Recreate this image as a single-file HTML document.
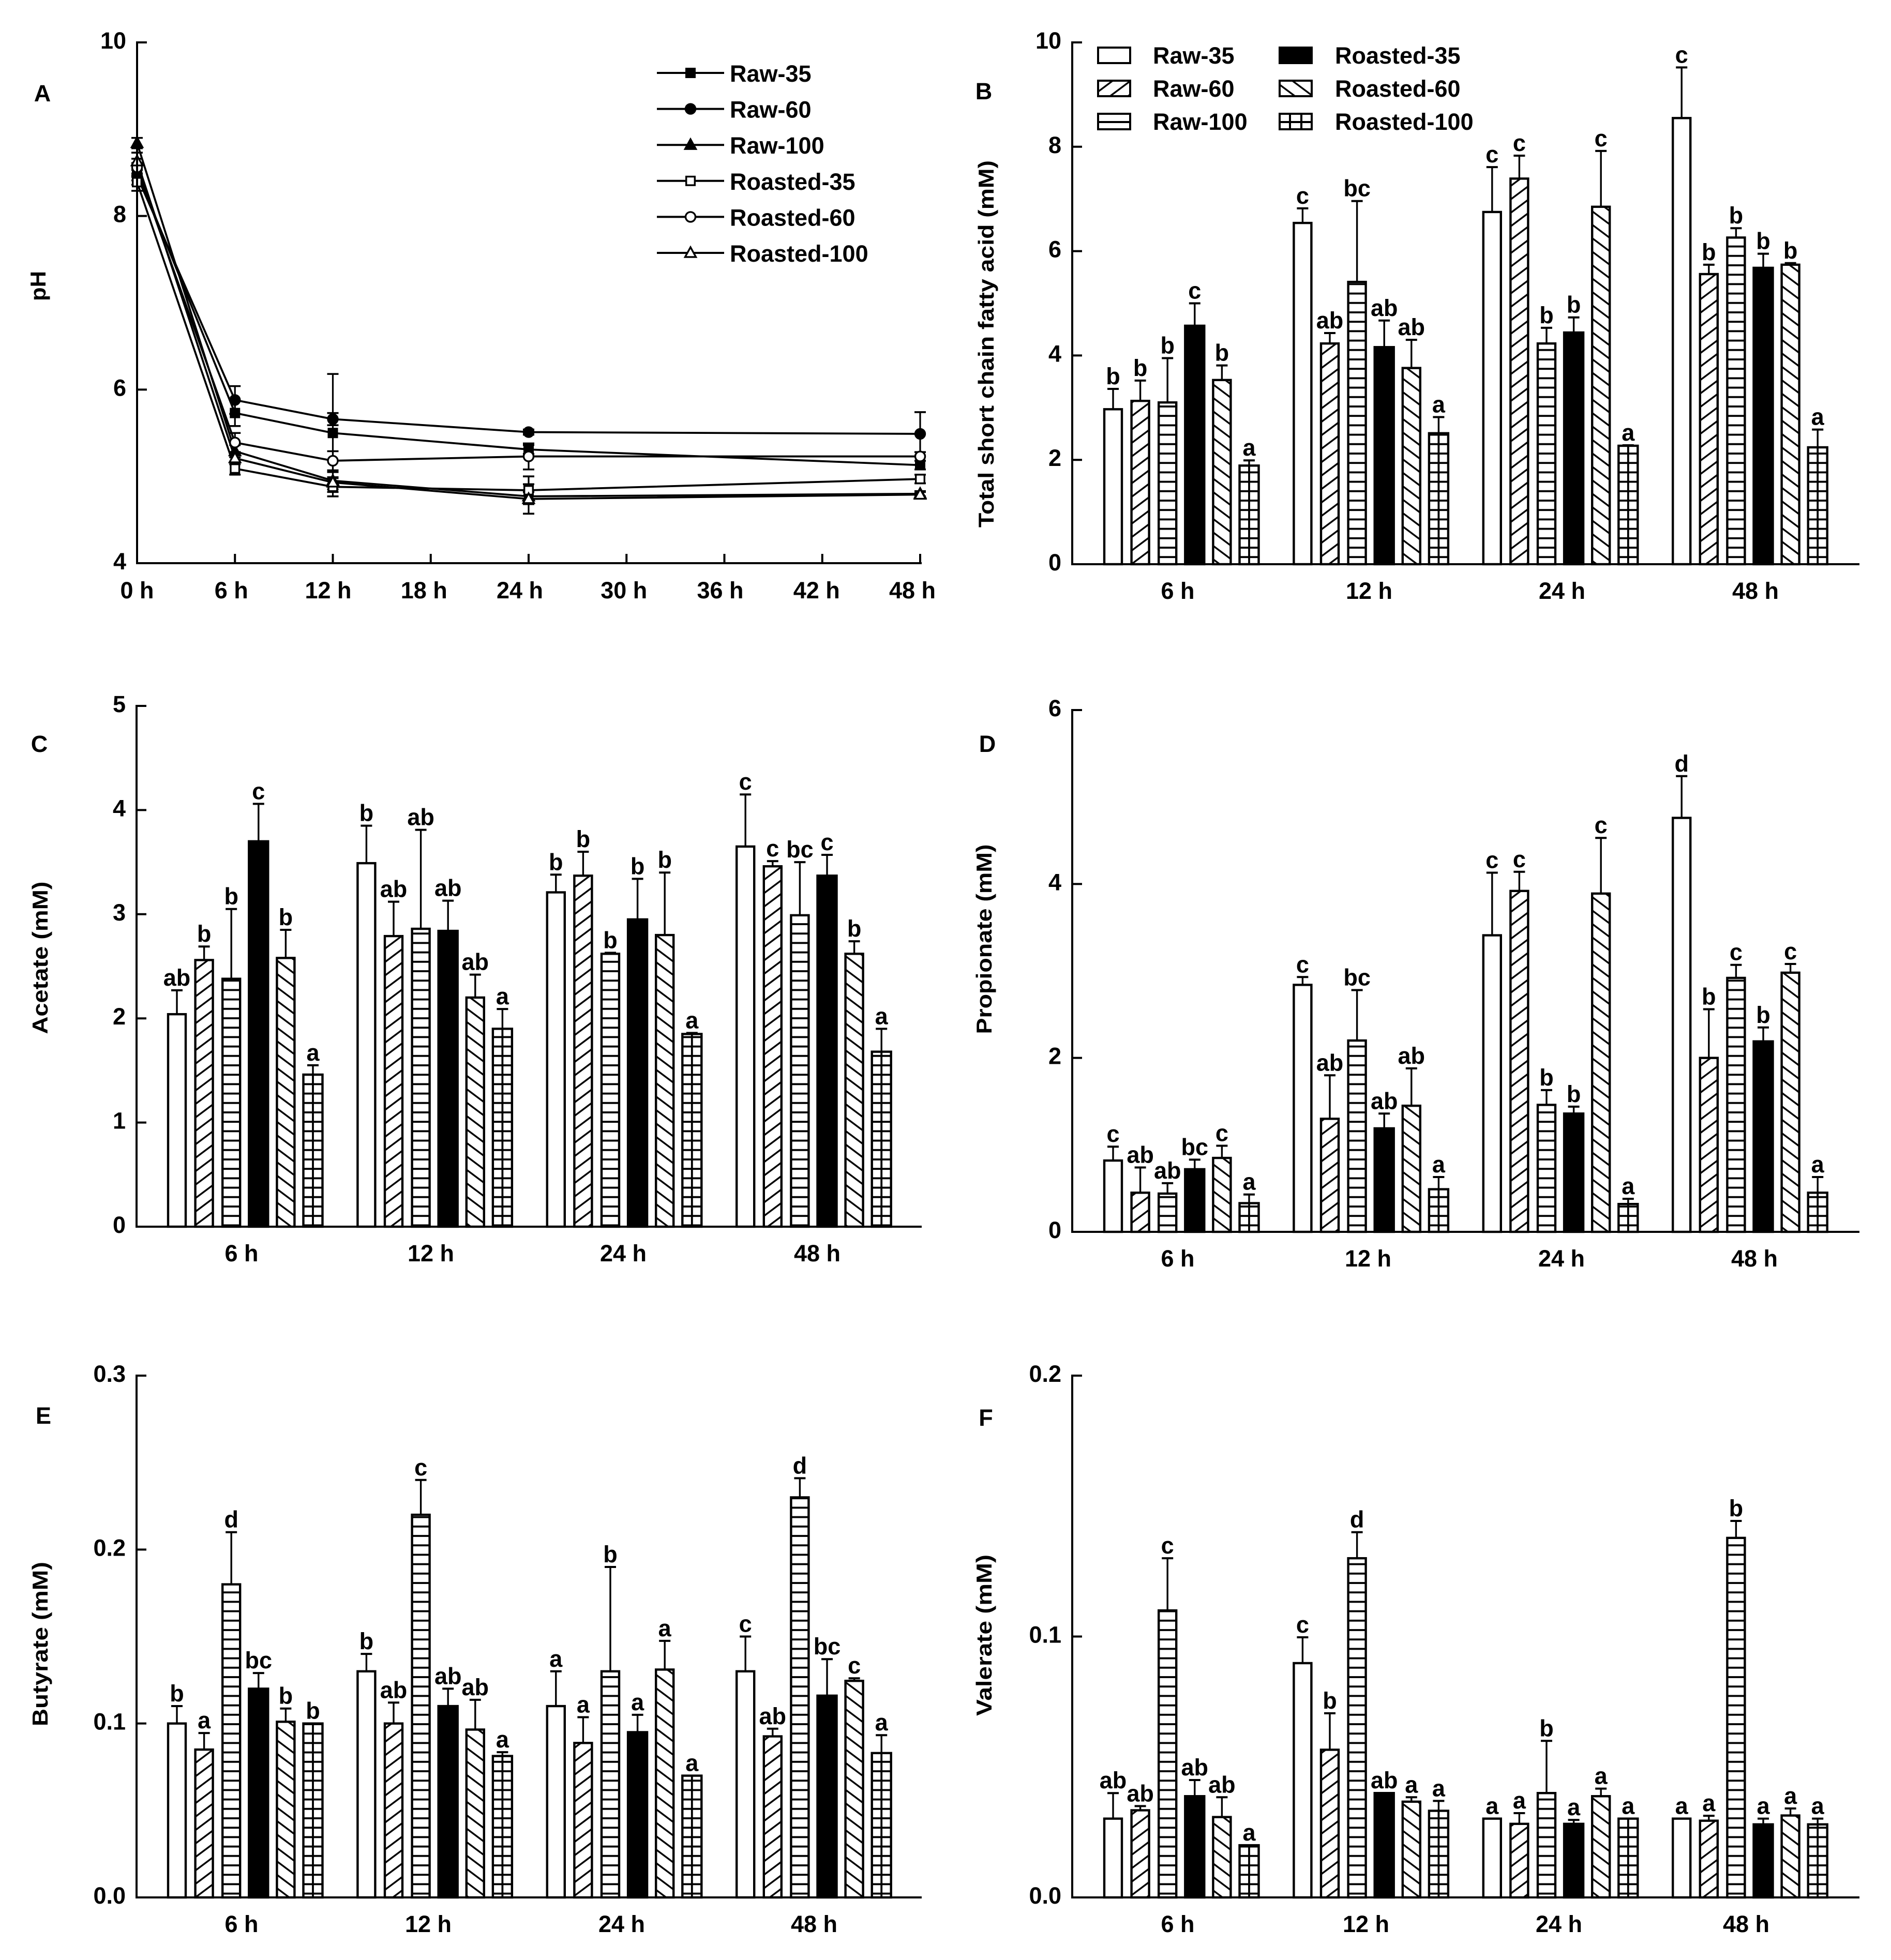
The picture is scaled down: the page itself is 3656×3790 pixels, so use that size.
<!DOCTYPE html>
<html lang="en">
<head>
<meta charset="utf-8">
<title>Fermentation pH and short chain fatty acids</title>
<style>
html,body{margin:0;padding:0;background:#fff;}
svg{display:block;}
text{font-family:"Liberation Sans",sans-serif;font-weight:bold;fill:#000;}
</style>
</head>
<body>
<svg id="figure" xmlns="http://www.w3.org/2000/svg" width="3656" height="3790" viewBox="0 0 3656 3790">
<defs>
<pattern id="p-up" patternUnits="userSpaceOnUse" width="34.7" height="26">
<rect width="34.7" height="26" fill="#fff"/>
<path d="M0 26L34.7 0M-34.7 26L0 0M34.7 26L69.4 0M0 0L34.7 -26M0 52L34.7 26" stroke="#000" stroke-width="3.4" fill="none"/>
</pattern>
<pattern id="p-down" patternUnits="userSpaceOnUse" width="34.7" height="26">
<rect width="34.7" height="26" fill="#fff"/>
<path d="M0 0L34.7 26M-34.7 0L0 26M34.7 0L69.4 26M0 -26L34.7 0M0 26L34.7 52" stroke="#000" stroke-width="3.4" fill="none"/>
</pattern>
<pattern id="p-h" patternUnits="userSpaceOnUse" y="-5.5" width="20" height="18.2">
<rect width="20" height="18.2" fill="#fff"/>
<rect y="7" width="20" height="3.8" fill="#000"/>
</pattern>
</defs>
<rect width="3656" height="3790" fill="#fff"/>
</svg>
<script>
// ---------- shared categories ----------
const categories = ['6 h', '12 h', '24 h', '48 h'];
const seriesNames = ['Raw-35', 'Raw-60', 'Raw-100', 'Roasted-35', 'Roasted-60', 'Roasted-100'];

// ---------- Panel A: pH ----------
const phHours = [0, 6, 12, 24, 48];
const phTickHours = [0, 6, 12, 18, 24, 30, 36, 42, 48];
const phHourLabels = ['0 h', '6 h', '12 h', '18 h', '24 h', '30 h', '36 h', '42 h', '48 h'];
const phTicks = [4, 6, 8, 10];
const phRaw35 = [8.51, 5.73, 5.50, 5.31, 5.13];
const phRaw60 = [8.46, 5.88, 5.66, 5.51, 5.49];
const phRaw100 = [8.84, 5.29, 4.95, 4.77, 4.80];
const phRoasted35 = [8.39, 5.09, 4.88, 4.84, 4.97];
const phRoasted60 = [8.56, 5.39, 5.18, 5.23, 5.23];
const phRoasted100 = [8.63, 5.21, 4.93, 4.74, 4.79];
const phRaw35Err = [0.1, 0.15, 0.68, 0.05, 0.05];
const phRaw60Err = [0.1, 0.16, 0.07, 0.03, 0.25];
const phRaw100Err = [0.06, 0.07, 0.1, 0.05, 0.03];
const phRoasted35Err = [0.1, 0.07, 0.11, 0.16, 0.05];
const phRoasted60Err = [0.1, 0.11, 0.11, 0.15, 0.05];
const phRoasted100Err = [0.1, 0.07, 0.05, 0.17, 0.03];

// ---------- Panel B: total SCFA ----------
const totalTicks = [0, 2, 4, 6, 8, 10];
const totalValues = [[2.97,3.13,3.10,4.57,3.53,1.89],[6.54,4.23,5.41,4.16,3.76,2.51],[6.75,7.39,4.23,4.44,6.85,2.27],[8.55,5.56,6.26,5.68,5.74,2.24]];
const totalErrorTops = [[3.36,3.52,3.95,5.00,3.81,1.99],[6.82,4.43,6.96,4.67,4.30,2.82],[7.61,7.83,4.53,4.73,7.92,2.28],[9.52,5.74,6.44,5.95,5.77,2.58]];
const totalLetters = [['b','b','b','c','b','a'],['c','ab','bc','ab','ab','a'],['c','c','b','b','c','a'],['c','b','b','b','b','a']];

// ---------- Panel C: acetate ----------
const acetateTicks = [0, 1, 2, 3, 4, 5];
const acetateValues = [[2.04,2.56,2.38,3.70,2.58,1.46],[3.49,2.79,2.86,2.84,2.20,1.90],[3.21,3.37,2.62,2.95,2.80,1.85],[3.65,3.46,2.99,3.37,2.62,1.68]];
const acetateErrorTops = [[2.27,2.69,3.05,4.06,2.85,1.55],[3.85,3.12,3.81,3.13,2.42,2.09],[3.38,3.60,2.63,3.34,3.40,1.86],[4.15,3.51,3.50,3.57,2.74,1.90]];
const acetateLetters = [['ab','b','b','c','b','a'],['b','ab','ab','ab','ab','a'],['b','b','b','b','b','a'],['c','c','bc','c','b','a']];

// ---------- Panel D: propionate ----------
const propionateTicks = [0, 2, 4, 6];
const propionateValues = [[0.82,0.45,0.44,0.72,0.85,0.33],[2.84,1.30,2.20,1.19,1.45,0.49],[3.41,3.92,1.46,1.36,3.89,0.32],[4.76,2.00,2.92,2.19,2.98,0.45]];
const propionateErrorTops = [[0.98,0.74,0.56,0.83,0.99,0.43],[2.93,1.80,2.78,1.36,1.88,0.63],[4.13,4.14,1.63,1.44,4.53,0.38],[5.24,2.56,3.07,2.35,3.08,0.63]];
const propionateLetters = [['c','ab','ab','bc','c','a'],['c','ab','bc','ab','ab','a'],['c','c','b','b','c','a'],['d','b','c','b','c','a']];

// ---------- Panel E: butyrate ----------
const butyrateTicks = [0, 0.1, 0.2, 0.3];
const butyrateValues = [[0.100,0.085,0.180,0.120,0.101,0.100],[0.130,0.100,0.220,0.110,0.0965,0.0813],[0.110,0.0888,0.130,0.095,0.131,0.070],[0.130,0.0926,0.230,0.116,0.1245,0.083]];
const butyrateErrorTops = [[0.110,0.0945,0.210,0.129,0.1086,0.100],[0.140,0.112,0.240,0.120,0.1136,0.0835],[0.130,0.1036,0.190,0.105,0.1475,0.070],[0.150,0.097,0.241,0.137,0.126,0.0933]];
const butyrateLetters = [['b','a','d','bc','b','b'],['b','ab','c','ab','ab','a'],['a','a','b','a','a','a'],['c','ab','d','bc','c','a']];

// ---------- Panel F: valerate ----------
const valerateTicks = [0, 0.1, 0.2];
const valerateValues = [[0.0302,0.0334,0.110,0.0388,0.0308,0.020],[0.0898,0.0566,0.130,0.040,0.0367,0.0332],[0.0302,0.0282,0.040,0.0282,0.0388,0.0302],[0.0302,0.0294,0.1378,0.028,0.0314,0.028]];
const valerateErrorTops = [[0.040,0.035,0.130,0.045,0.0384,0.020],[0.0997,0.0706,0.140,0.040,0.0384,0.037],[0.0302,0.0323,0.060,0.0297,0.0417,0.0302],[0.0302,0.0313,0.1443,0.0302,0.0341,0.0302]];
const valerateLetters = [['ab','ab','c','ab','ab','a'],['c','b','d','ab','a','a'],['a','a','b','a','a','a'],['a','a','b','a','a','a']];

// ---------- drawing helpers ----------
const NS = 'http://www.w3.org/2000/svg';
const root = document.getElementById('figure');
function make(tag, attrs, parent) {
  const el = document.createElementNS(NS, tag);
  for (const k in attrs) el.setAttribute(k, attrs[k]);
  (parent || root).appendChild(el);
  return el;
}
function seg(x1, y1, x2, y2, w, parent) {
  return make('line', {x1: x1, y1: y1, x2: x2, y2: y2, stroke: '#000', 'stroke-width': w}, parent);
}
function label(str, x, y, anchor, size, parent) {
  const t = make('text', {x: x, y: y, 'text-anchor': anchor, 'font-size': size}, parent);
  t.textContent = str;
  return t;
}
function linear(d0, d1, r0, r1) {
  return function (v) { return r0 + (v - d0) * (r1 - r0) / (d1 - d0); };
}
const barFills = ['#fff', 'url(#p-up)', 'url(#p-h)', '#000', 'url(#p-down)', 'url(#p-h)'];
const barInnerWidth = [34, 34, 34, 37, 34, 37];
const FONT = 45;

function drawYAxis(g, cfg, yScale, ticks, digits) {
  const axis = seg(cfg.axisX, cfg.yTop - 2, cfg.axisX, cfg.yBase + 2, 4, g);
  
  
  ticks.forEach(function (v) {
    const tick = seg(cfg.axisX, yScale(v), cfg.axisX + 19, yScale(v), 4, g);
    
    
    const t = label(v.toFixed(digits), cfg.axisX - 21, yScale(v) + 12, 'end', FONT, g);
    
    
  });
  const xAxis = seg(cfg.axisX - 2, cfg.yBase, cfg.xEnd, cfg.yBase, 4, g);
  
  
}
function drawDecor(g, cfg) {
  const tb = make('text', {
    transform: 'translate(' + cfg.titleX + ',' + cfg.titleY + ') rotate(-90)',
    'text-anchor': 'middle', 'font-size': 42, textLength: cfg.titleLen, lengthAdjust: 'spacingAndGlyphs'
  }, g);
  tb.textContent = cfg.title;
  
  
  const pl = label(cfg.letter, cfg.letterX, cfg.letterY, 'middle', FONT, g);
  
  
}

function drawBarPanel(cfg) {
  const g = make('g', {});
  
  
  const yScale = linear(0, cfg.ticks[cfg.ticks.length - 1], cfg.yBase, cfg.yTop);
  const groupX = function (i) { return cfg.barX0 + 366.4 * i; };
  const PITCH = 52.6;
  cfg.values.forEach(function (row, gi) {
    row.forEach(function (v, s) {
      const W = barInnerWidth[s];
      const cx = groupX(gi) + PITCH * s;
      const yTop = yScale(v);
      const errTop = yScale(cfg.tops[gi][s]);
      if (cfg.tops[gi][s] > v) {
        const stem = seg(cx, yTop, cx, errTop, 3.4, g);
        
        
        const cap = seg(cx - 11, errTop, cx + 11, errTop, 4, g);
        
        
      }
      const rect = make('rect', {
        x: cx - W / 2, y: yTop, width: W, height: cfg.yBase - yTop,
        fill: barFills[s], stroke: '#000', 'stroke-width': 4.4
      }, g);
      
      
      if (s === 5) {
        const mid = seg(cx, yTop, cx, cfg.yBase, 3.8, g);
        
        
      }
      const lt = label(cfg.letters[gi][s], cx, Math.min(yTop, errTop) - 9, 'middle', FONT, g);
      
      
    });
    const cat = label(categories[gi], cfg.labelX[gi], cfg.yBase + 67, 'middle', FONT, g);
    
    
  });
  drawYAxis(g, cfg, yScale, cfg.ticks, cfg.digits);
  drawDecor(g, cfg);
}

// ---------- Panel A ----------
function marker(kind, x, y, parent) {
  const fill = kind.open ? '#fff' : '#000';
  if (kind.shape === 'square') {
    return make('rect', {x: x - 8.3, y: y - 8.3, width: 16.6, height: 16.6, fill: fill, stroke: '#000', 'stroke-width': 3.4}, parent);
  }
  if (kind.shape === 'circle') {
    return make('circle', {cx: x, cy: y, r: 9.5, fill: fill, stroke: '#000', 'stroke-width': 3.4}, parent);
  }
  return make('polygon', {points: (x - 10.5) + ',' + (y + 8) + ' ' + (x + 10.5) + ',' + (y + 8) + ' ' + x + ',' + (y - 11), fill: fill, stroke: '#000', 'stroke-width': 3.4}, parent);
}
function drawPhPanel() {
  const cfg = {axisX: 265, xEnd: 1782, yTop: 82, yBase: 1089, title: 'pH', titleX: 88, titleY: 553, titleLen: 58, letter: 'A', letterX: 82, letterY: 196};
  const g = make('g', {});
  
  
  const yScale = linear(4, 10, cfg.yBase, cfg.yTop);
  const xScale = linear(0, 48, 265, 1779);
  const labelNudge = [0, -7, -9, -13, -17, -5, -8, -11, -15];
  const lines = [
    {vals: phRaw35, errs: phRaw35Err, kind: {shape: 'square', open: false}},
    {vals: phRaw60, errs: phRaw60Err, kind: {shape: 'circle', open: false}},
    {vals: phRaw100, errs: phRaw100Err, kind: {shape: 'tri', open: false}},
    {vals: phRoasted35, errs: phRoasted35Err, kind: {shape: 'square', open: true}},
    {vals: phRoasted60, errs: phRoasted60Err, kind: {shape: 'circle', open: true}},
    {vals: phRoasted100, errs: phRoasted100Err, kind: {shape: 'tri', open: true}}
  ];
  lines.forEach(function (s, si) {
    const pts = s.vals.map(function (v, i) { return xScale(phHours[i]) + ',' + yScale(v); }).join(' ');
    const line = make('polyline', {points: pts, fill: 'none', stroke: '#000', 'stroke-width': 3.8}, g);
    
    
  });
  lines.forEach(function (s, si) {
    s.vals.forEach(function (v, i) {
      const x = xScale(phHours[i]);
      const y0 = yScale(v + s.errs[i]), y1 = yScale(v - s.errs[i]);
      const stem = seg(x, y0, x, y1, 3.2, g);
      
      
      const capA = seg(x - 11, y0, x + 11, y0, 3.6, g);
      
      
      const capB = seg(x - 11, y1, x + 11, y1, 3.6, g);
      
      
    });
  });
  lines.forEach(function (s, si) {
    s.vals.forEach(function (v, i) {
      const m = marker(s.kind, xScale(phHours[i]), yScale(v), g);
      
      
    });
  });
  drawYAxis(g, cfg, yScale, phTicks, 0);
  phTickHours.forEach(function (h, i) {
    const tick = seg(xScale(h), cfg.yBase, xScale(h), cfg.yBase - 18, 4, g);
    
    
    const t = label(phHourLabels[i], xScale(h) + labelNudge[i], cfg.yBase + 68, 'middle', FONT, g);
    
    
  });
  drawDecor(g, cfg);
  // legend
  const lg = make('g', {}, g);
  
  
  lines.forEach(function (s, si) {
    const y = 141 + 69.6 * si;
    const l = seg(1270, y, 1400, y, 4, lg);
    
    
    const m = marker(s.kind, 1335, y, lg);
    
    
    const t = label(seriesNames[si], 1411, y + 17, 'start', FONT, lg);
    
    
  });
}
drawPhPanel();

// ---------- Bar panels ----------
drawBarPanel({name: 'total', values: totalValues, tops: totalErrorTops, letters: totalLetters, ticks: totalTicks, digits: 0,
  axisX: 2073, xEnd: 3595, yTop: 82, yBase: 1091, barX0: 2152, labelX: [2277, 2647, 3020, 3394],
  title: 'Total short chain fatty acid (mM)', titleX: 1921, titleY: 665, titleLen: 710, letter: 'B', letterX: 1902, letterY: 192});
drawBarPanel({name: 'acetate', values: acetateValues, tops: acetateErrorTops, letters: acetateLetters, ticks: acetateTicks, digits: 0,
  axisX: 264, xEnd: 1782, yTop: 1365, yBase: 2372, barX0: 342, labelX: [467, 833, 1205, 1580],
  title: 'Acetate (mM)', titleX: 92, titleY: 1852, titleLen: 295, letter: 'C', letterX: 76, letterY: 1454});
drawBarPanel({name: 'propionate', values: propionateValues, tops: propionateErrorTops, letters: propionateLetters, ticks: propionateTicks, digits: 0,
  axisX: 2073, xEnd: 3595, yTop: 1373, yBase: 2382, barX0: 2152, labelX: [2277, 2645, 3019, 3392],
  title: 'Propionate (mM)', titleX: 1917, titleY: 1816, titleLen: 367, letter: 'D', letterX: 1909, letterY: 1454});
drawBarPanel({name: 'butyrate', values: butyrateValues, tops: butyrateErrorTops, letters: butyrateLetters, ticks: butyrateTicks, digits: 1,
  axisX: 264, xEnd: 1782, yTop: 2660, yBase: 3669, barX0: 342, labelX: [467, 828, 1202, 1574],
  title: 'Butyrate (mM)', titleX: 92, titleY: 3179, titleLen: 318, letter: 'E', letterX: 84, letterY: 2753});
drawBarPanel({name: 'valerate', values: valerateValues, tops: valerateErrorTops, letters: valerateLetters, ticks: valerateTicks, digits: 1,
  axisX: 2073, xEnd: 3595, yTop: 2660, yBase: 3669, barX0: 2152, labelX: [2277, 2641, 3014, 3376],
  title: 'Valerate (mM)', titleX: 1917, titleY: 3162, titleLen: 312, letter: 'F', letterX: 1906, letterY: 2757});

// ---------- Bar legend (panel B) ----------
(function () {
  const lg = make('g', {});
  
  
  const colSwatch = [2121, 2472];
  const colText = [2229, 2581];
  const rowTop = [90, 154, 218];
  seriesNames.forEach(function (nm, i) {
    const col = Math.floor(i / 3), row = i % 3;
    const x = colSwatch[col], y = rowTop[row];
    const sw = make('rect', {
      x: x + 2, y: y + 2, width: 62, height: 30,
      fill: (i === 2 || i === 5) ? '#fff' : barFills[i], stroke: '#000', 'stroke-width': 4
    }, lg);
    
    
    if (i === 2 || i === 5) {
      const h = seg(x, y + 18, x + 66, y + 18, 4, lg);
      
      
    }
    if (i === 5) {
      [22, 44].forEach(function (dx) {
        const v = seg(x + dx, y, x + dx, y + 34, 4, lg);
        
        
      });
    }
    const t = label(nm, colText[col], y + 33, 'start', FONT, lg);
    
    
  });
})();
</script>
</body>
</html>
